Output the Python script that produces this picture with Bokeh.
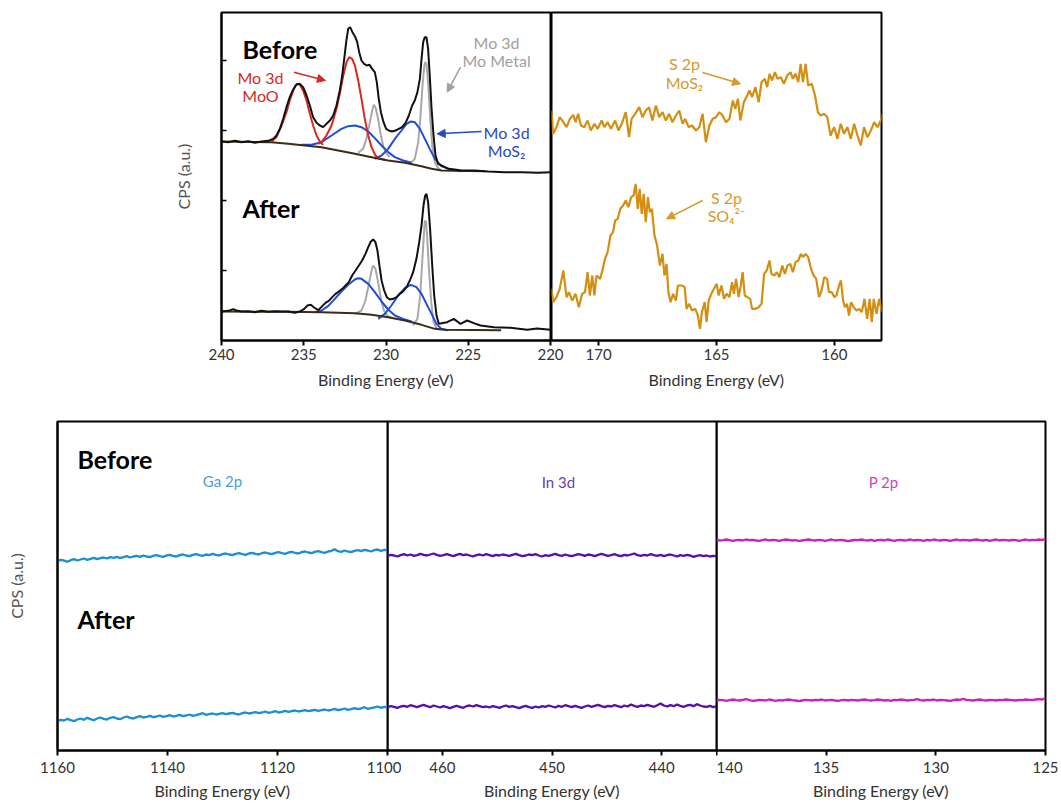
from bokeh.plotting import figure
from bokeh.layouts import row, column
from bokeh.models import Range1d, FixedTicker, Label, Arrow, NormalHead
from bokeh.embed import file_html
from bokeh.resources import INLINE

FONT = "Lato"

# ---------------- Mo 3d (energy eV, intensity a.u.) ----------------
mo_before = [(240.00,122),(239.59,120),(239.19,124),(238.78,120),(238.38,123),(237.97,118),(237.57,122),(237.16,124),(236.86,130),(236.66,140),(236.45,160),(236.25,190),(236.05,225),(235.85,255),(235.64,278),(235.44,293),(235.24,295),(235.04,285),(234.83,260),(234.63,230),(234.43,195),(234.22,178),(234.02,170),(233.82,165),(233.62,175),(233.41,185),(233.21,200),(233.01,230),(232.81,275),(232.66,320),(232.54,370),(232.42,420),(232.30,460),(232.18,465),(232.04,450),(231.89,438),(231.75,420),(231.63,390),(231.49,365),(231.33,355),(231.17,350),(231.00,352),(230.84,340),(230.68,330),(230.56,300),(230.44,250),(230.31,210),(230.15,180),(229.99,160),(229.83,155),(229.63,152),(229.42,155),(229.22,160),(229.02,165),(228.81,178),(228.61,200),(228.41,230),(228.25,245),(228.09,270),(227.94,310),(227.84,370),(227.74,420),(227.64,435),(227.54,435),(227.44,400),(227.34,320),(227.23,220),(227.11,140),(226.99,80),(226.83,55),(226.63,50),(226.42,45),(226.22,40),(225.82,38),(225.41,35),(224.60,35),(223.79,32),(222.78,30),(221.76,30),(220.75,28),(220.00,30)]
mo_before_bg = [(240.00,122),(236.96,120),(235.95,115),(234.93,110),(233.92,105),(232.91,95),(231.89,85),(230.88,75),(229.87,65),(228.85,58),(227.84,48),(227.23,40),(226.63,35),(225.82,34),(223.99,33)]
mo_before_moo_a = [(236.96,122),(236.66,135),(236.35,170),(236.05,210),(235.85,245),(235.64,275),(235.50,290),(235.38,295),(235.24,292),(235.04,275),(234.83,245),(234.63,205),(234.43,170),(234.22,140),(234.02,122),(233.82,112)]
mo_before_moo_b = [(234.12,115),(233.92,120),(233.62,140),(233.31,170),(233.01,220),(232.81,265),(232.60,320),(232.40,360),(232.24,375),(232.06,370),(231.89,350),(231.69,305),(231.49,250),(231.29,190),(231.08,140),(230.88,105),(230.64,80),(230.37,70),(230.07,67)]
mo_before_met_a = [(231.69,88),(231.39,100),(231.19,130),(230.98,180),(230.84,215),(230.74,232),(230.64,225),(230.48,190),(230.31,140),(230.15,105),(229.97,85),(229.77,75)]
mo_before_met_b = [(228.55,55),(228.25,70),(228.04,120),(227.90,200),(227.78,290),(227.68,345),(227.62,360),(227.54,355),(227.44,300),(227.32,200),(227.19,110),(227.03,60),(226.83,42),(226.63,35)]
mo_before_mos2_a = [(235.14,112),(234.53,112),(233.92,120),(233.31,140),(232.71,160),(232.30,168),(231.89,170),(231.49,165),(231.08,152),(230.68,132),(230.27,110),(229.87,90),(229.46,75),(228.96,65),(228.45,58)]
mo_before_mos2_b = [(230.68,70),(230.27,80),(229.87,100),(229.46,130),(229.06,155),(228.75,175),(228.49,182),(228.25,180),(227.94,160),(227.64,130),(227.34,100),(227.03,70),(226.63,48),(226.02,37),(225.41,33)]

mo_after = [(240.00,72),(239.59,74),(239.29,79),(239.09,75),(238.78,72),(238.38,73),(237.97,70),(237.57,74),(237.16,71),(236.76,73),(236.35,72),(235.95,72),(235.54,68),(235.24,72),(234.97,80),(234.77,90),(234.57,92),(234.37,84),(234.12,76),(233.92,86),(233.68,98),(233.48,104),(233.27,115),(233.07,125),(232.87,132),(232.66,140),(232.46,150),(232.26,160),(232.06,180),(231.85,195),(231.65,210),(231.45,225),(231.25,245),(231.08,265),(230.92,282),(230.78,288),(230.64,280),(230.52,255),(230.40,210),(230.27,165),(230.11,135),(229.95,115),(229.77,108),(229.56,110),(229.36,115),(229.16,125),(228.96,132),(228.75,145),(228.55,165),(228.35,190),(228.15,230),(227.98,280),(227.84,330),(227.72,390),(227.62,420),(227.54,425),(227.44,400),(227.32,320),(227.19,210),(227.07,120),(226.93,60),(226.79,35),(226.28,40),(225.88,50),(225.47,35),(225.07,45),(224.66,37),(224.25,30),(223.44,25),(222.43,23),(221.42,17),(220.81,21),(220.00,17)]
mo_after_bg = [(240.00,72),(235.95,71),(233.92,70),(231.89,67),(230.88,62),(229.87,55),(228.85,45),(227.84,32),(227.03,20),(226.42,17),(223.00,16)]
mo_after_mos2_a = [(234.33,70),(233.92,75),(233.52,88),(233.11,110),(232.71,132),(232.30,152),(231.89,168),(231.69,172),(231.49,170),(231.08,155),(230.68,130),(230.27,102),(229.87,78),(229.46,60),(228.96,50),(228.45,42)]
mo_after_mos2_b = [(230.48,50),(230.07,65),(229.67,90),(229.26,120),(228.86,142),(228.49,152),(228.15,145),(227.84,125),(227.54,95),(227.23,65),(226.93,35),(226.63,20),(226.22,16)]
mo_after_met_a = [(231.89,65),(231.49,75),(231.25,105),(231.04,155),(230.88,195),(230.78,210),(230.64,200),(230.48,160),(230.31,110),(230.13,75),(229.93,60),(229.67,52)]
mo_after_met_b = [(228.35,30),(228.09,50),(227.92,120),(227.80,220),(227.70,300),(227.64,345),(227.56,340),(227.48,280),(227.38,190),(227.25,100),(227.11,40),(226.93,22),(226.73,18)]

# ---------------- S 2p ----------------
s_before_e = [172.00,171.93,171.79,171.65,171.50,171.36,171.22,171.08,170.98,170.87,170.75,170.61,170.47,170.33,170.18,170.04,169.87,169.76,169.62,169.48,169.30,169.16,169.02,168.85,168.71,168.60,168.45,168.28,168.14,168.00,167.86,167.72,167.57,167.43,167.29,167.15,167.01,166.87,166.72,166.58,166.44,166.33,166.18,166.04,165.87,165.73,165.59,165.45,165.30,165.16,165.02,164.88,164.74,164.60,164.45,164.31,164.20,164.09,163.99,163.84,163.70,163.60,163.49,163.35,163.21,163.09,162.95,162.85,162.75,162.64,162.52,162.41,162.27,162.14,162.00,161.86,161.76,161.65,161.53,161.43,161.33,161.22,161.11,160.96,160.82,160.70,160.58,160.44,160.30,160.16,160.01,159.87,159.73,159.59,159.45,159.30,159.16,159.02,158.88,158.74,158.60,158.45,158.31,158.17,158.03,157.96]
s_before_i = [135,65,85,115,100,85,110,122,100,125,90,85,105,75,95,80,105,85,100,80,105,75,95,130,55,110,125,145,115,135,145,105,150,115,130,105,125,100,120,135,95,110,85,90,75,85,125,40,90,110,115,130,120,100,110,165,140,170,105,160,180,195,175,205,160,220,230,205,245,225,250,230,235,215,240,250,230,245,220,275,220,275,210,215,180,130,120,125,115,60,85,50,95,65,85,50,95,60,30,85,55,75,100,85,105,125]
s_after_e = [172.00,171.93,171.79,171.65,171.50,171.36,171.26,171.12,170.98,170.84,170.70,170.58,170.47,170.37,170.27,170.18,170.09,169.94,169.84,169.73,169.62,169.50,169.39,169.30,169.19,169.08,168.96,168.85,168.74,168.62,168.52,168.43,168.34,168.26,168.17,168.09,168.00,167.91,167.83,167.74,167.63,167.52,167.40,167.29,167.21,167.12,167.04,166.95,166.84,166.72,166.64,166.47,166.35,166.27,166.16,166.04,165.90,165.79,165.70,165.62,165.50,165.42,165.33,165.22,165.11,164.99,164.91,164.79,164.68,164.57,164.45,164.34,164.26,164.17,164.06,163.97,163.89,163.80,163.69,163.57,163.49,163.35,163.21,163.09,162.98,162.87,162.75,162.67,162.55,162.44,162.33,162.21,162.10,161.99,161.87,161.76,161.65,161.53,161.42,161.33,161.22,161.11,160.99,160.88,160.77,160.65,160.54,160.43,160.31,160.23,160.11,160.00,159.91,159.80,159.72,159.63,159.55,159.46,159.38,159.29,159.18,159.06,158.95,158.84,158.72,158.61,158.50,158.41,158.33,158.21,158.10,158.01,157.96]
s_after_i = [140,100,115,140,195,115,130,105,125,85,125,130,190,120,180,120,180,170,195,230,250,300,310,345,350,380,390,405,385,415,420,455,380,440,365,425,340,415,370,380,300,270,210,245,180,215,130,100,125,105,150,150,145,80,95,75,80,60,20,70,100,40,105,125,140,155,120,150,110,125,115,160,125,170,115,150,190,120,115,110,80,80,85,95,185,195,225,185,180,190,175,210,185,210,215,190,220,225,245,235,245,235,200,180,170,115,135,175,170,130,130,115,120,150,165,105,85,95,60,100,85,75,80,70,110,50,110,40,110,65,110,80,70]

# ---------------- Ga 2p, In 3d, P 2p ----------------
ga_e = [1160.0,1159.4,1158.8,1158.2,1157.6,1157.0,1156.4,1155.8,1155.2,1154.6,
        1154.0,1153.4,1152.8,1152.2,1151.6,1151.0,1150.4,1149.8,1149.2,1148.6,
        1148.0,1147.4,1146.8,1146.2,1145.6,1145.0,1144.4,1143.8,1143.2,1142.6,
        1142.0,1141.4,1140.8,1140.2,1139.6,1139.0,1138.4,1137.8,1137.2,1136.6,
        1136.0,1135.4,1134.8,1134.2,1133.6,1133.0,1132.4,1131.8,1131.2,1130.6,
        1130.0,1129.4,1128.8,1128.2,1127.6,1127.0,1126.4,1125.8,1125.2,1124.6,
        1124.0,1123.4,1122.8,1122.2,1121.6,1121.0,1120.4,1119.8,1119.2,1118.6,
        1118.0,1117.4,1116.8,1116.2,1115.6,1115.0,1114.4,1113.8,1113.2,1112.6,
        1112.0,1111.4,1110.8,1110.2,1109.6,1109.0,1108.4,1107.8,1107.2,1106.6,
        1106.0,1105.4,1104.8,1104.2,1103.6,1103.0,1102.4,1101.8,1101.2,1100.6,
        1100.0]
ga_before = [68,72,70,66,71,74,70,73,76,72, 75,78,74,77,79,76,80,78,81,77,
             80,83,79,82,84,81,85,82,80,84, 86,83,81,85,87,84,82,86,88,85,
             83,87,89,86,84,88,86,90,87,85, 89,91,88,86,90,92,89,87,91,93,
             90,88,92,94,91,89,93,95,92,90, 94,96,93,91,95,97,94,92,96,98,
             95,93,97,99,104,98,96,100,97,95, 99,101,98,102,100,97,101,103,99,102,
             101]
ga_after = [88,92,90,95,91,88,93,96,92,98, 94,91,96,99,95,93,98,100,96,94,
            99,102,98,96,100,103,99,101,104,100, 102,105,101,103,106,102,104,107,103,105,
            108,104,106,109,112,107,109,111,108,110, 112,109,111,113,110,108,112,114,111,113,
            115,112,114,117,113,115,118,114,116,119, 116,118,120,117,119,121,118,120,122,119,
            121,123,120,122,125,121,123,126,122,124, 127,124,126,130,125,127,129,132,128,131,
            130]
in_e = [465.0,464.7,464.4,464.1,463.8,463.5,463.2,462.9,462.6,462.3,
        462.0,461.7,461.4,461.1,460.8,460.5,460.2,459.9,459.6,459.3,
        459.0,458.7,458.4,458.1,457.8,457.5,457.2,456.9,456.6,456.3,
        456.0,455.7,455.4,455.1,454.8,454.5,454.2,453.9,453.6,453.3,
        453.0,452.7,452.4,452.1,451.8,451.5,451.2,450.9,450.6,450.3,
        450.0,449.7,449.4,449.1,448.8,448.5,448.2,447.9,447.6,447.3,
        447.0,446.7,446.4,446.1,445.8,445.5,445.2,444.9,444.6,444.3,
        444.0,443.7,443.4,443.1,442.8,442.5,442.2,441.9,441.6,441.3,
        441.0,440.7,440.4,440.1,439.8,439.5,439.2,438.9,438.6,438.3,
        438.0,437.7,437.4,437.1,436.8,436.5,436.2,435.9,435.6,435.3,
        435.0]
in_before = [134,137,135,132,136,139,135,138,134,136, 140,137,135,138,141,137,134,136,139,136,
             133,137,140,136,138,135,132,136,138,135, 139,136,133,137,135,138,136,134,137,140,
             136,133,135,138,136,139,135,132,136,134, 137,140,136,134,138,135,133,136,139,137,
             134,138,136,133,137,140,137,134,136,139, 135,133,137,135,138,141,136,134,137,135,
             139,136,134,137,133,136,138,135,132,136, 134,137,135,131,134,136,133,135,132,134,
             133]
in_after = [130,133,131,128,132,134,131,136,133,130, 134,137,133,130,135,132,129,133,130,127,
            131,134,131,128,133,135,132,136,133,130, 132,129,133,131,128,132,135,131,133,130,
            127,131,134,130,128,132,129,133,131,135, 132,129,134,131,136,133,130,134,131,128,
            132,135,131,134,137,133,130,134,132,136, 133,130,135,132,138,134,131,135,133,137,
            134,131,136,141,135,132,136,133,138,134, 131,135,137,133,139,135,132,131,134,130,
            133]
p_e = [140.0,139.85,139.7,139.55,139.4,139.25,139.1,138.95,138.8,138.65,
       138.5,138.35,138.2,138.05,137.9,137.75,137.6,137.45,137.3,137.15,
       137.0,136.85,136.7,136.55,136.4,136.25,136.1,135.95,135.8,135.65,
       135.5,135.35,135.2,135.05,134.9,134.75,134.6,134.45,134.3,134.15,
       134.0,133.85,133.7,133.55,133.4,133.25,133.1,132.95,132.8,132.65,
       132.5,132.35,132.2,132.05,131.9,131.75,131.6,131.45,131.3,131.15,
       131.0,130.85,130.7,130.55,130.4,130.25,130.1,129.95,129.8,129.65,
       129.5,129.35,129.2,129.05,128.9,128.75,128.6,128.45,128.3,128.15,
       128.0,127.85,127.7,127.55,127.4,127.25,127.1,126.95,126.8,126.65,
       126.5,126.35,126.2,126.05,125.9,125.75,125.6,125.45,125.3,125.15,
       125.0]
p_before = [152,150,151,153,151,149,151,152,150,153, 151,152,150,149,151,153,150,152,151,149,
            151,153,152,150,151,149,150,152,153,151, 150,152,151,149,151,153,150,151,152,150,
            148,150,152,151,153,151,150,152,149,151, 152,150,153,151,149,151,152,150,151,153,
            150,152,151,149,152,150,153,151,150,152, 151,149,151,153,150,152,151,150,152,153,
            151,150,152,149,151,153,150,152,151,150, 152,151,149,151,153,150,152,151,153,152,
            154]
p_after = [150,152,151,149,151,153,151,150,152,154, 151,149,150,152,151,150,153,151,149,151,
           150,152,153,151,150,148,150,152,151,150, 152,151,153,150,151,152,150,149,151,152,
           150,152,151,150,152,153,151,150,151,153, 152,150,151,149,152,151,153,152,150,151,
           152,154,151,150,152,151,153,150,152,151, 150,149,151,153,152,155,152,151,150,152,
           153,151,150,152,151,150,152,151,153,152, 151,150,152,151,153,152,151,153,154,153,
           157]

mo_ticks = [240, 235, 230, 225, 220]
s_ticks = [170, 165, 160]
ga_ticks = [1160, 1140, 1120, 1100]
in_ticks = [460, 450, 440]
p_ticks = [140, 135, 130, 125]

# stacking offsets (a.u.) used to separate "Before" and "After" spectra
MO_OFF = (475, 15)
S_OFF = (555, 15)
GA_OFF = (500, 0)
IN_OFF = (450, 0)
P_OFF = (480, 0)

TOP_Y = 984
BOT_Y = 987


def make_fig(xr, ticks, y_end, fw, fh, left, right, top, bottom, y_axis=False,
             margin_left=0, label_standoff=3, axis_standoff=10):
    p = figure(width=left + fw + right, height=top + fh + bottom,
               x_range=Range1d(*xr), y_range=Range1d(0, y_end),
               output_backend="svg", toolbar_location=None,
               y_axis_location="left" if y_axis else None,
               min_border_left=left, min_border_right=right,
               min_border_top=top, min_border_bottom=bottom)
    p.xgrid.visible = False
    p.ygrid.visible = False
    p.outline_line_color = "black"
    p.outline_line_width = 2
    p.outline_line_alpha = 1
    p.background_fill_color = None
    p.border_fill_color = None
    if margin_left:
        p.margin = (0, 0, 0, margin_left)
    ax = p.xaxis[0]
    ax.ticker = FixedTicker(ticks=ticks)
    ax.axis_line_color = "black"
    ax.axis_line_width = 2
    ax.major_tick_line_color = "black"
    ax.major_tick_line_width = 2
    ax.major_tick_out = 5
    ax.major_tick_in = 0
    ax.minor_tick_line_color = None
    ax.major_label_text_font = FONT
    ax.major_label_text_font_size = "15px"
    ax.major_label_text_color = "#333333"
    ax.major_label_standoff = label_standoff
    ax.axis_label = "Binding Energy (eV)"
    ax.axis_label_text_font = FONT
    ax.axis_label_text_font_size = "16px"
    ax.axis_label_text_font_style = "normal"
    ax.axis_label_text_color = "#333333"
    ax.axis_label_standoff = axis_standoff
    return p


def style_yaxis(p, ticks, standoff):
    ay = p.yaxis[0]
    ay.ticker = FixedTicker(ticks=ticks)
    ay.axis_line_color = "black"
    ay.axis_line_width = 2
    ay.major_tick_line_color = "black"
    ay.major_tick_line_width = 1.5
    ay.major_tick_in = 5
    ay.major_tick_out = 0
    ay.minor_tick_line_color = None
    ay.major_label_text_font_size = "1px"
    ay.major_label_text_color = None
    ay.major_label_standoff = 0
    ay.axis_label = "CPS (a.u.)"
    ay.axis_label_text_font = FONT
    ay.axis_label_text_font_size = "16px"
    ay.axis_label_text_font_style = "normal"
    ay.axis_label_text_color = "#555555"
    ay.axis_label_standoff = standoff


def draw(p, pairs, off, color, width=2.0):
    xs = [e for e, _ in pairs]
    ys = [v + off for _, v in pairs]
    p.line(xs, ys, line_color=color, line_width=width)


def label(p, x, y, text, color, size="16px", bold=False, align="center"):
    p.add_layout(Label(x=x, y=y, text=text, text_color=color, text_font=FONT,
                       text_font_size=size,
                       text_font_style="bold" if bold else "normal",
                       text_align=align, text_baseline="alphabetic"))


def arrow(p, x0, y0, x1, y1, color):
    p.add_layout(Arrow(end=NormalHead(size=8, fill_color=color, line_color=color),
                       x_start=x0, y_start=y0, x_end=x1, y_end=y1,
                       line_color=color, line_width=1.5))


RED, BLUE, GREY, BG, BLK = "#d62a1f", "#1f4fd8", "#a8a8a8", "#3d2b16", "#111111"
GOLD = "#d38f12"

# ---------------- top row ----------------
mo = make_fig((240, 220), mo_ticks, TOP_Y, 329, 328, 221, 14, 12, 66, y_axis=True,
              label_standoff=3, axis_standoff=7)
style_yaxis(mo, [210, 420, 630, 840], 29)
for i, (pairs_list, bg, data) in enumerate([
        ([(mo_before_met_a, GREY), (mo_before_met_b, GREY), (mo_before_mos2_a, BLUE),
          (mo_before_mos2_b, BLUE), (mo_before_moo_a, RED), (mo_before_moo_b, RED)],
         mo_before_bg, mo_before),
        ([(mo_after_met_a, GREY), (mo_after_met_b, GREY), (mo_after_mos2_a, BLUE),
          (mo_after_mos2_b, BLUE)], mo_after_bg, mo_after)]):
    off = MO_OFF[i]
    for pairs, c in pairs_list:
        draw(mo, pairs, off, c, 2.0)
    draw(mo, bg, off, BG, 2.0)
    draw(mo, data, off, BLK, 2.0)

label(mo, 238.72, 876, "Before", "black", "25px", bold=True, align="left")
label(mo, 238.72, 399, "After", "black", "25px", bold=True, align="left")
label(mo, 237.63, 790, "Mo 3d", RED)
label(mo, 237.63, 735, "MoO", RED)
arrow(mo, 235.60, 805, 233.68, 780, RED)
label(mo, 223.28, 895, "Mo 3d", "#a0a0a0")
label(mo, 223.28, 840, "Mo Metal", "#a0a0a0")
arrow(mo, 225.47, 820, 226.28, 745, "#a0a0a0")
label(mo, 222.67, 625, "Mo 3d", "#2a48c0")
label(mo, 222.67, 570, "MoS\u2082", "#2a48c0")
arrow(mo, 224.19, 627, 226.89, 620, "#2a48c0")

s = make_fig((172, 158), s_ticks, TOP_Y, 330, 328, 1, 14, 12, 66, margin_left=-14,
             label_standoff=3, axis_standoff=7)
s.line(s_before_e, [v + S_OFF[0] for v in s_before_i], line_color=GOLD, line_width=2.2)
s.line(s_after_e, [v + S_OFF[1] for v in s_after_i], line_color=GOLD, line_width=2.2)
label(s, 166.36, 831, "S 2p", "#d69a2c")
label(s, 166.36, 774, "MoS\u2082", "#d69a2c")
arrow(s, 165.59, 804, 163.98, 770, "#d69a2c")
label(s, 164.58, 430, "S 2p", "#d69a2c")
label(s, 164.58, 375, "SO\u2084\u00b2\u207b", "#d69a2c")
arrow(s, 165.59, 420, 167.12, 365, "#d69a2c")

# ---------------- bottom row ----------------
ga = make_fig((1160, 1100), ga_ticks, BOT_Y, 330, 329, 57, 14, 15, 54, y_axis=True,
              label_standoff=6, axis_standoff=5)
style_yaxis(ga, [], 32)
ga.line(ga_e, [v + GA_OFF[0] for v in ga_before], line_color="#1c8fd1", line_width=2.3)
ga.line(ga_e, [v + GA_OFF[1] for v in ga_after], line_color="#1c8fd1", line_width=2.3)
label(ga, 1156.36, 876, "Before", "black", "25px", bold=True, align="left")
label(ga, 1156.36, 396, "After", "black", "25px", bold=True, align="left")
label(ga, 1130.0, 810, "Ga 2p", "#4b9fd5", "15px")

inn = make_fig((465, 435), in_ticks, BOT_Y, 329, 329, 0, 14, 15, 54, margin_left=-14,
               label_standoff=6, axis_standoff=5)
inn.line(in_e, [v + IN_OFF[0] for v in in_before], line_color="#5a0ea8", line_width=2.3)
inn.line(in_e, [v + IN_OFF[1] for v in in_after], line_color="#5a0ea8", line_width=2.3)
label(inn, 449.41, 807, "In 3d", "#6b3fae", "15px")

pp = make_fig((140, 125), p_ticks, BOT_Y, 329, 329, 0, 14, 15, 54, margin_left=-14,
              label_standoff=6, axis_standoff=5)
pp.line(p_e, [v + P_OFF[0] for v in p_before], line_color="#d11fb5", line_width=2.3)
pp.line(p_e, [v + P_OFF[1] for v in p_after], line_color="#d11fb5", line_width=2.3)
label(pp, 132.38, 807, "P 2p", "#cc44bb", "15px")

layout = column(row(mo, s), row(ga, inn, pp))

open("out.html", "w").write(file_html(layout, INLINE))
